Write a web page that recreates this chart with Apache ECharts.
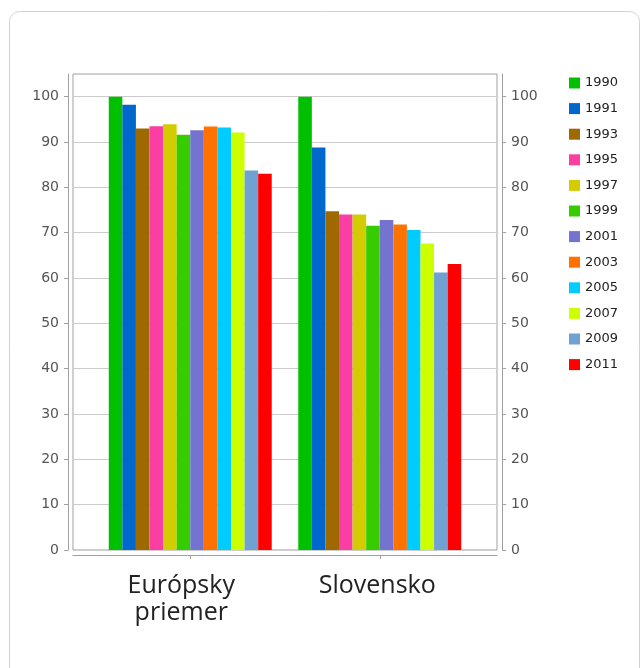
<!DOCTYPE html>
<html>
<head>
<meta charset="utf-8">
<title>Európsky priemer a Slovensko</title>
<script src="https://cdn.jsdelivr.net/npm/echarts@6/dist/echarts.min.js"></script>
<style>
  html, body { margin: 0; padding: 0; background: #ffffff; }
  #chart { width: 643px; height: 668px; }
</style>
</head>
<body>
<div id="chart"></div>
<script>
// Index values (1990 = 100) for the two regions, one series per year
const categories = ['Európsky\npriemer', 'Slovensko'];
const years = ['1990', '1991', '1993', '1995', '1997', '1999', '2001', '2003', '2005', '2007', '2009', '2011'];
const europeValues = [100, 98.2, 93.0, 93.5, 93.9, 91.6, 92.6, 93.4, 93.2, 92.1, 83.7, 83.0];
const slovakiaValues = [100, 88.8, 74.7, 74.0, 74.0, 71.5, 72.8, 71.8, 70.6, 67.6, 61.2, 63.1];
const yTicks = [0, 10, 20, 30, 40, 50, 60, 70, 80, 90, 100];
const yearColors = ['#00c000', '#0068cc', '#9e6a00', '#fa3ea3', '#d2cc00', '#36cc00',
                    '#7474d0', '#ff7200', '#00ccff', '#ccff00', '#6fa1d2', '#ff0000'];

const chart = echarts.init(document.getElementById('chart'), null, { renderer: 'canvas' });

const Y_MAX = 105;
const tickFont = { fontFamily: 'DejaVu Sans', fontSize: 14, color: '#555555' };
const catFont = { fontFamily: 'Open Sans', fontSize: 25, lineHeight: 27, color: '#222222' };

const series = years.map((year, i) => ({
  name: year,
  type: 'bar',
  xAxisIndex: 1,
  yAxisIndex: 2,
  barGap: '0%',
  barCategoryGap: '14%',
  itemStyle: { color: yearColors[i] },
  emphasis: { disabled: true },
  data: [europeValues[i], slovakiaValues[i]]
}));

const option = {
  animation: false,
  backgroundColor: '#ffffff',
  color: yearColors,
  graphic: [{
    type: 'rect',
    z: -10,
    silent: true,
    shape: { x: 9.5, y: 11.5, width: 630, height: 720, r: 10 },
    style: { fill: '#ffffff', stroke: '#d2d2d2', lineWidth: 1 }
  }],
  legend: {
    orient: 'vertical',
    left: 569,
    top: 76.5,
    padding: 0,
    itemWidth: 11,
    itemHeight: 11,
    itemGap: 12.6,
    icon: 'rect',
    selectedMode: false,
    textStyle: { fontFamily: 'DejaVu Sans', fontSize: 13, color: '#222222' },
    data: years
  },
  grid: [
    // frame of the plot area
    { left: 73, top: 74, width: 424, height: 476, show: true, borderColor: '#a0a0a0', borderWidth: 1, containLabel: false },
    // bar layout area
    { left: 95.5, top: 74, width: 379, height: 476, containLabel: false }
  ],
  xAxis: [
    {
      gridIndex: 0,
      type: 'category',
      data: categories,
      offset: 5,
      axisLine: { show: true, onZero: false, lineStyle: { color: '#a0a0a0', width: 1 } },
      axisTick: { show: false },
      axisLabel: { show: false },
      splitLine: { show: false }
    },
    {
      gridIndex: 1,
      type: 'category',
      data: categories,
      offset: 5,
      axisLine: { show: false, onZero: false },
      axisTick: { show: true, alignWithLabel: true, interval: 0, length: 4, lineStyle: { color: '#a0a0a0' } },
      axisLabel: Object.assign({
        margin: 17,
        interval: 0,
        hideOverlap: false,
        formatter: (value, index) => value.split('\n').map(line => `{c${index}|${line}}`).join('\n'),
        rich: {
          c0: Object.assign({ padding: [0, 18, 0, 0] }, catFont),
          c1: Object.assign({ padding: [0, 5, 0, 0] }, catFont)
        }
      }, catFont),
      splitLine: { show: false }
    }
  ],
  yAxis: [
    {
      gridIndex: 0,
      type: 'value',
      position: 'left',
      min: 0,
      max: Y_MAX,
      interval: 10,
      offset: 5,
      axisLine: { show: true, lineStyle: { color: '#a0a0a0', width: 1 } },
      axisTick: { show: true, length: 4, customValues: yTicks, lineStyle: { color: '#a0a0a0' } },
      axisLabel: Object.assign({ margin: 9, customValues: yTicks }, tickFont),
      splitLine: { show: true, lineStyle: { color: '#cccccc', width: 1 } }
    },
    {
      gridIndex: 0,
      type: 'value',
      position: 'right',
      min: 0,
      max: Y_MAX,
      interval: 10,
      offset: 5,
      axisLine: { show: true, lineStyle: { color: '#a0a0a0', width: 1 } },
      axisTick: { show: true, length: 4, customValues: yTicks, lineStyle: { color: '#a0a0a0' } },
      axisLabel: Object.assign({ margin: 9, customValues: yTicks }, tickFont),
      splitLine: { show: false }
    },
    {
      gridIndex: 1,
      type: 'value',
      min: 0,
      max: Y_MAX,
      show: false
    }
  ],
  series: series
};

chart.setOption(option);
</script>
</body>
</html>
